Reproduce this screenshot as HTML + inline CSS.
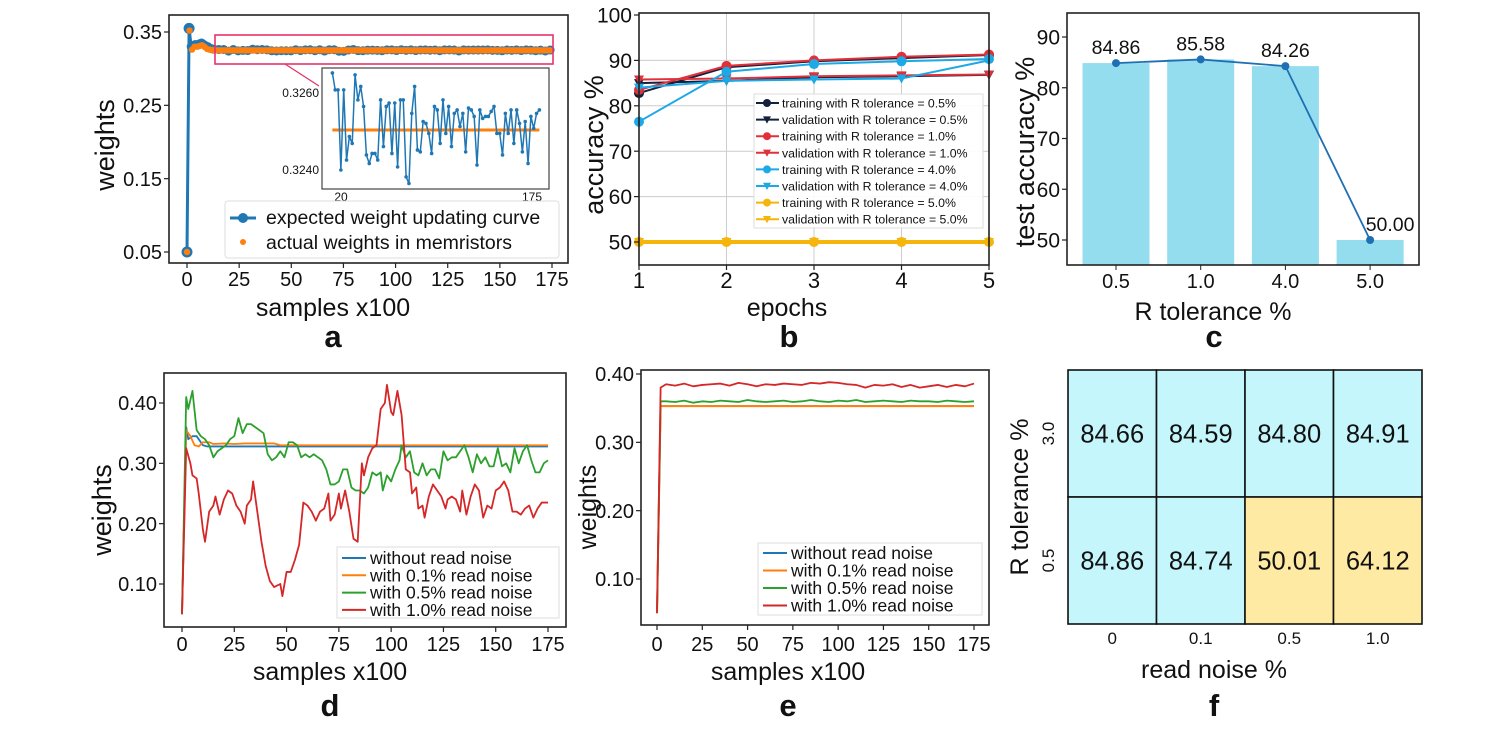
<!DOCTYPE html>
<html><head><meta charset="utf-8">
<style>
html,body{margin:0;padding:0;background:#fff;}
svg{display:block;font-family:"Liberation Sans",Arial,sans-serif;}
</style></head>
<body>
<svg id="fig" width="1510" height="746" viewBox="0 0 1510 746"></svg>
<script>
// ---------- DATA ----------
// panel a
const aHeadX = [0,1,2,3,4,5,6,7,8,9,10,11,12];
const aHeadExpected = [0.05,0.355,0.33,0.332,0.333,0.332,0.334,0.335,0.333,0.331,0.33,0.328,0.327];
const aHeadActual = [0.05,0.352,0.326,0.328,0.33,0.33,0.331,0.332,0.33,0.328,0.327,0.326,0.3255];
const aInsetExpected = [0.32652,0.32608,0.32608,0.32400,0.32608,0.32426,0.32487,0.32469,0.32647,0.32582,0.32617,0.32565,0.32439,0.32417,0.32443,0.32443,0.32426,0.32582,0.32461,0.32565,0.32574,0.32443,0.32574,0.32408,0.32582,0.32582,0.32382,0.32365,0.32547,0.32617,0.32452,0.32447,0.32526,0.32521,0.32495,0.32443,0.32565,0.32556,0.32469,0.32582,0.32495,0.32565,0.32461,0.32547,0.32556,0.32513,0.32547,0.32447,0.32561,0.32556,0.32539,0.32413,0.32556,0.32534,0.32539,0.32539,0.32552,0.32565,0.32495,0.32495,0.32439,0.32547,0.32495,0.32556,0.32469,0.32556,0.32521,0.32447,0.32526,0.32417,0.32539,0.32508,0.32547,0.32556];
const aInsetActual = 0.32504;
const aInsetStart = 13, aInsetEnd = 181;
const aYTicks = [0.05,0.15,0.25,0.35];
const aXTicks = [0,25,50,75,100,125,150,175];
// panel b
const bEpochs = [1,2,3,4,5];
const bTrain05 = [82.8,88.5,89.8,90.5,91.2];
const bVal05 = [85,85.5,86.3,86.5,86.8];
const bTrain10 = [83.5,88.8,90,90.8,91.3];
const bVal10 = [85.8,86,86.5,86.7,86.9];
const bTrain40 = [76.5,87.5,89.2,89.8,90.3];
const bVal40 = [84,85.5,85.8,86,90];
const bTrain50 = [50,50,50,50,50];
const bVal50 = [50,50,50,50,50];
const bYTicks = [50,60,70,80,90,100];
// panel c
const cCats = ["0.5","1.0","4.0","5.0"];
const cVals = [84.86,85.58,84.26,50.00];
const cYTicks = [50,60,70,80,90];
// panel d
const dBlueX = [0,2,3,5,7,10,12,175];
const dBlueY = [0.05,0.36,0.34,0.345,0.345,0.33,0.328,0.328];
const dOrangeX = [0,2,4,6,8,10,13,15,20,25,30,44,47,175];
const dOrangeY = [0.05,0.355,0.345,0.33,0.328,0.335,0.335,0.332,0.333,0.332,0.333,0.333,0.33,0.33];
const dGreenX = [0,2,3,5,7,9,11,13,15,17,19,21,23,25,27,29,31,33,35,37,39,41,43,45,47,49,51,53,55,57,59,61,63,65,67,69,71,73,75,77,79,81,83,85,87,89,91,93,95,96,98,100,102,104,105,107,109,111,113,115,117,119,121,123,125,127,129,131,133,135,137,139,141,143,145,147,149,151,153,155,157,159,161,163,165,167,169,171,173,175];
const dGreenY = [0.05,0.41,0.39,0.42,0.355,0.345,0.34,0.33,0.31,0.32,0.325,0.33,0.34,0.345,0.375,0.35,0.365,0.365,0.36,0.355,0.35,0.315,0.305,0.31,0.32,0.31,0.335,0.335,0.33,0.31,0.315,0.31,0.315,0.31,0.305,0.29,0.265,0.265,0.27,0.29,0.29,0.26,0.255,0.255,0.25,0.26,0.285,0.28,0.285,0.255,0.28,0.27,0.29,0.305,0.33,0.31,0.32,0.285,0.28,0.30,0.28,0.29,0.29,0.275,0.32,0.305,0.31,0.31,0.32,0.33,0.31,0.285,0.315,0.30,0.31,0.295,0.295,0.325,0.295,0.30,0.285,0.325,0.30,0.32,0.33,0.305,0.285,0.285,0.30,0.305];
const dRedX = [0,2,4,5,7,8,10,11,13,15,16,18,20,22,24,26,28,30,31,33,34,36,38,40,42,44,47,48,50,52,54,56,58,60,62,64,66,68,70,71,73,75,76,78,80,82,84,86,87,89,91,93,95,97,98,100,101,103,105,107,109,110,112,113,115,116,118,120,122,124,126,127,129,131,133,134,136,138,140,142,144,146,148,150,152,154,156,158,160,162,164,166,168,170,172,175];
const dRedY = [0.05,0.325,0.30,0.28,0.275,0.25,0.19,0.17,0.22,0.23,0.245,0.215,0.24,0.255,0.25,0.23,0.22,0.20,0.23,0.24,0.27,0.22,0.17,0.13,0.105,0.095,0.10,0.08,0.12,0.12,0.14,0.165,0.235,0.23,0.22,0.205,0.22,0.225,0.25,0.205,0.215,0.25,0.225,0.255,0.22,0.175,0.17,0.30,0.28,0.31,0.325,0.33,0.39,0.40,0.43,0.385,0.38,0.42,0.38,0.29,0.285,0.25,0.26,0.225,0.23,0.21,0.245,0.265,0.255,0.245,0.225,0.24,0.245,0.24,0.22,0.255,0.215,0.245,0.265,0.255,0.21,0.23,0.225,0.255,0.26,0.27,0.255,0.22,0.22,0.215,0.225,0.23,0.21,0.225,0.235,0.235];
const dYTicks = [0.10,0.20,0.30,0.40];
const xTicks175 = [0,25,50,75,100,125,150,175];
// panel e
const eFlatX = [0,2,175];
const eBlueY = [0.05,0.353,0.353];
const eOrangeY = [0.05,0.353,0.353];
const eNoiseStartX = [0,2];
const eGreenHead = [0.05,0.36];
const eRedHead = [0.05,0.38];
const eNoiseStep = 5;
const eGreen = [0.36,0.359,0.361,0.358,0.36,0.359,0.361,0.36,0.359,0.362,0.36,0.359,0.36,0.361,0.359,0.36,0.362,0.36,0.359,0.361,0.36,0.362,0.359,0.36,0.361,0.36,0.359,0.361,0.36,0.36,0.359,0.361,0.36,0.359,0.36];
const eRed = [0.385,0.383,0.386,0.382,0.384,0.385,0.386,0.383,0.387,0.385,0.382,0.385,0.384,0.386,0.385,0.384,0.387,0.386,0.388,0.387,0.385,0.384,0.38,0.384,0.383,0.385,0.381,0.384,0.38,0.382,0.384,0.381,0.384,0.382,0.386];
// panel f
const fCols = ["0","0.1","0.5","1.0"];
const fRows = ["3.0","0.5"];
const fRow30 = [84.66,84.59,84.80,84.91];
const fRow05 = [84.86,84.74,50.01,64.12];

// ---------- HELPERS ----------
const NS = "http://www.w3.org/2000/svg";
const svg = document.getElementById('fig');
function mk(tag, attrs, parent){
  const e = document.createElementNS(NS, tag);
  for (const k in attrs) e.setAttribute(k, attrs[k]);
  (parent || svg).appendChild(e);
  return e;
}
function txt(s, x, y, size, anchor, parent, extra){
  const a = {x:x, y:y, 'font-size':size, 'text-anchor':anchor||'middle', fill:'#111'};
  if (extra) for (const k in extra) a[k] = extra[k];
  const t = mk('text', a, parent);
  t.textContent = s;
  return t;
}
function grp(name){
  const g = mk('g', {});
  
  
  return g;
}
function pathD(xs, ys, sx, sy){
  return xs.map((x,i)=>(i?'L':'M')+sx(x).toFixed(2)+' '+sy(ys[i]).toFixed(2)).join(' ');
}
function series(g, name, xs, ys, sx, sy, color, w){
  const p = mk('path', {d:pathD(xs,ys,sx,sy), fill:'none', stroke:color, 'stroke-width':w, 'stroke-linejoin':'round'}, g);
  
  
  return p;
}
function frame(g, name, x0,y0,x1,y1){
  const r = mk('rect', {x:x0,y:y0,width:x1-x0,height:y1-y0,fill:'none',stroke:'#222','stroke-width':1.6}, g);
  
  
}
function yTicks(g, ticks, sy, xAxis, fmt, size){
  ticks.forEach(v=>{
    mk('line',{x1:xAxis-5,x2:xAxis,y1:sy(v),y2:sy(v),stroke:'#222','stroke-width':1.2},g);
    const t = txt(fmt(v), xAxis-7, sy(v)+size*0.36, size, 'end', g);
    
    
  });
}
function xTicks(g, ticks, sx, yAxis, fmt, size, base){
  ticks.forEach(v=>{
    mk('line',{x1:sx(v),x2:sx(v),y1:yAxis,y2:yAxis+5,stroke:'#222','stroke-width':1.2},g);
    const t = txt(fmt(v), sx(v), base, size, 'middle', g);
    
    
  });
}
function label(g, s, x, y, size, name, rot, bold){
  const extra = {};
  if (rot) extra.transform = 'rotate(-90 '+x+' '+y+')';
  if (bold) extra['font-weight'] = 'bold';
  const t = txt(s, x, y, size, 'middle', g, extra);
  
  
}

// ---------- PANEL A ----------
(function(){
  const g = grp('panel-a');
  const xA = v=>187+v*(552-187)/175;
  const yA = v=>252-(v-0.05)*(252-32)/0.30;
  const n = aInsetExpected.length;
  const insetX = aInsetExpected.map((_,i)=>aInsetStart+i*(aInsetEnd-aInsetStart)/(n-1));
  const allX = aHeadX.concat(insetX);
  const expY = aHeadExpected.concat(aInsetExpected);
  series(g,'expected-weight-line',allX.map(v=>Math.min(v,175)),expY,xA,yA,'#1f77b4',3);
  const markX = [];
  for (let v=0; v<=175; v+=1.2) markX.push(v);
  allX.forEach((x,i)=>{ if (x<=175) {
    const c = mk('circle',{cx:xA(x),cy:yA(expY[i]),r:i<2?5.5:4.5,fill:'#1f77b4'},g);
    
    
  }});
  markX.forEach(x=>{
    const v = x<=12 ? aHeadActual[Math.round(x)] : aInsetActual;
    const c = mk('circle',{cx:xA(x),cy:yA(v),r:3.2,fill:'#ff7f0e'},g);
    
    
  });
  frame(g,'panel-a-axes',169,15,568,263);
  yTicks(g,aYTicks,yA,169,v=>v.toFixed(2),20);
  xTicks(g,aXTicks,xA,263,v=>String(v),20,286);
  const zr = mk('rect',{x:215,y:35,width:338,height:29,fill:'none',stroke:'#e8336b','stroke-width':1.6},g);
  
  
  const cl = mk('line',{x1:285,y1:64,x2:319,y2:86,stroke:'#e8336b','stroke-width':1.3},g);
  
  
  const ig = grp('inset-a');
  const bg = mk('rect',{x:322,y:68,width:227,height:121,fill:'#fff',stroke:'#444','stroke-width':1.2},ig);
  
  
  const xI = v=>341+(v-20)*(532-341)/155;
  const yI = v=>93+(0.3260-v)*(170-93)/0.002;
  const al = mk('line',{x1:xI(aInsetStart),x2:xI(aInsetEnd),y1:yI(aInsetActual),y2:yI(aInsetActual),stroke:'#ff7f0e','stroke-width':3},ig);
  
  
  series(ig,'inset-expected-line',insetX,aInsetExpected,xI,yI,'#1f77b4',1.5);
  insetX.forEach((x,i)=>{
    const c = mk('circle',{cx:xI(x),cy:yI(aInsetExpected[i]),r:1.8,fill:'#1f77b4'},ig);
    
    
  });
  [0.3260,0.3240].forEach(v=>{
    const t = txt(v.toFixed(4),319,yI(v)+4,12,'end',ig);
    
    
  });
  [20,175].forEach(v=>{
    const t = txt(String(v),xI(v),201,12,'middle',ig);
    
    
  });
  const lg = grp('legend-a');
  const lb = mk('rect',{x:225,y:201,width:334,height:57,rx:3,fill:'#fff','fill-opacity':0.85,stroke:'#ddd'},lg);
  
  
  mk('line',{x1:230,x2:256,y1:218,y2:218,stroke:'#1f77b4','stroke-width':3},lg);
  mk('circle',{cx:243,cy:218,r:5,fill:'#1f77b4'},lg);
  mk('circle',{cx:243,cy:242,r:3,fill:'#ff7f0e'},lg);
  const l1 = txt('expected weight updating curve',266,224,19.5,'start',lg);
  
  
  const l2 = txt('actual weights in memristors',266,249,19.5,'start',lg);
  
  
  label(g,'weights',114,145,27,'y-axis-title',true);
  label(g,'samples x100',333,316,25,'x-axis-title');
  label(g,'a',333,347,31,'panel-label-a',false,true);
})();

// ---------- PANEL B ----------
(function(){
  const g = grp('panel-b');
  const xB = e=>639+(e-1)*(989-639)/4;
  const yB = v=>242-(v-50)*(242-15)/50;
  bEpochs.forEach(e=>{ if(e>1&&e<5) mk('line',{x1:xB(e),x2:xB(e),y1:13,y2:265,stroke:'#ccc','stroke-width':1},g);});
  bYTicks.forEach(v=>{ if(v>50&&v<100) mk('line',{x1:639,x2:989,y1:yB(v),y2:yB(v),stroke:'#ccc','stroke-width':1},g);});
  mk('line',{x1:639,x2:989,y1:yB(50),y2:yB(50),stroke:'#ccc','stroke-width':1},g);
  const sets = [
    ['train-0.5',bTrain05,'#14213d','o'],['val-0.5',bVal05,'#14213d','v'],
    ['train-1.0',bTrain10,'#e0303a','o'],['val-1.0',bVal10,'#e0303a','v'],
    ['train-4.0',bTrain40,'#1ca9e6','o'],['val-4.0',bVal40,'#1ca9e6','v'],
    ['train-5.0',bTrain50,'#f5b50a','o'],['val-5.0',bVal50,'#f5b50a','v']];
  function marker(parent,x,y,type,color,r){
    let m;
    if (type==='o') m = mk('circle',{cx:x,cy:y,r:r,fill:color},parent);
    else m = mk('path',{d:'M'+(x-r)+' '+(y-r*0.8)+' L'+(x+r)+' '+(y-r*0.8)+' L'+x+' '+(y+r)+' Z',fill:color},parent);
    
    
  }
  sets.forEach(s=>{
    const w = s[0].indexOf('5.0')>=0 ? 4 : 2;
    series(g,'line-'+s[0],bEpochs,s[1],xB,yB,s[2],w);
    bEpochs.forEach((e,i)=>marker(g,xB(e),yB(s[1][i]),s[3],s[2],5));
  });
  frame(g,'panel-b-axes',639,13,989,265);
  yTicks(g,bYTicks,yB,639,v=>String(v),21);
  xTicks(g,bEpochs,xB,265,v=>String(v),22,288);
  const lg = grp('legend-b');
  const lb = mk('rect',{x:754,y:94,width:229,height:134,fill:'#fff','fill-opacity':0.9,stroke:'#ddd'},lg);
  
  
  const names = ['training with R tolerance = 0.5%','validation with R tolerance = 0.5%','training with R tolerance = 1.0%','validation with R tolerance = 1.0%','training with R tolerance = 4.0%','validation with R tolerance = 4.0%','training with R tolerance = 5.0%','validation with R tolerance = 5.0%'];
  names.forEach((nm,i)=>{
    const y = 103+i*16.6;
    mk('line',{x1:756,x2:779,y1:y,y2:y,stroke:sets[i][2],'stroke-width':2},lg);
    marker(lg,767,y,sets[i][3],sets[i][2],4);
    const t = txt(nm,782,y+4.5,12.3,'start',lg);
    
    
  });
  label(g,'accuracy %',603,145,27,'y-axis-title',true);
  label(g,'epochs',787,316,25,'x-axis-title');
  label(g,'b',789,347,31,'panel-label-b',false,true);
})();

// ---------- PANEL C ----------
(function(){
  const g = grp('panel-c');
  const xC = i=>1116+i*84.7;
  const yC = v=>240-(v-50)*(240-37)/40;
  const base = 265;
  cVals.forEach((v,i)=>{
    const b = mk('rect',{x:xC(i)-33.5,y:yC(v),width:67,height:base-yC(v),fill:'#93ddee'},g);
    
    
  });
  series(g,'accuracy-line',cVals.map((_,i)=>i),cVals,xC,yC,'#1f6fb4',1.8);
  cVals.forEach((v,i)=>{
    const c = mk('circle',{cx:xC(i),cy:yC(v),r:4,fill:'#1f6fb4'},g);
    
    
    const t = txt(v.toFixed(2), xC(i)+(i===3?20:0), yC(v)-9, 19.5, 'middle', g);
    
    
  });
  frame(g,'panel-c-axes',1067,13,1419,265);
  yTicks(g,cYTicks,yC,1067,v=>String(v),21);
  cCats.forEach((c,i)=>{
    mk('line',{x1:xC(i),x2:xC(i),y1:265,y2:270,stroke:'#222'},g);
    const t = txt(c,xC(i),288,20,'middle',g);
    
    
  });
  label(g,'test accuracy %',1034,152,27,'y-axis-title',true);
  label(g,'R tolerance %',1213,320,25,'x-axis-title');
  label(g,'c',1214,347,31,'panel-label-c',false,true);
})();

// ---------- PANEL D ----------
(function(){
  const g = grp('panel-d');
  const xD = v=>182+v*(548-182)/175;
  const yD = v=>403+(0.40-v)*(584-403)/0.30;
  series(g,'line-without-noise',dBlueX,dBlueY,xD,yD,'#1f77b4',1.8);
  series(g,'line-0.1-noise',dOrangeX,dOrangeY,xD,yD,'#ff7f0e',1.8);
  series(g,'line-0.5-noise',dGreenX,dGreenY,xD,yD,'#2ca02c',1.8);
  series(g,'line-1.0-noise',dRedX,dRedY,xD,yD,'#d62728',1.8);
  frame(g,'panel-d-axes',164,373,566,627);
  yTicks(g,dYTicks,yD,164,v=>v.toFixed(2),20);
  xTicks(g,xTicks175,xD,627,v=>String(v),20,651);
  const lg = grp('legend-d');
  const lb = mk('rect',{x:337,y:547,width:222,height:71,fill:'#fff','fill-opacity':0.85,stroke:'#ddd'},lg);
  
  
  const nm = ['without read noise','with 0.1% read noise','with 0.5% read noise','with 1.0% read noise'];
  const cl = ['#1f77b4','#ff7f0e','#2ca02c','#d62728'];
  nm.forEach((s,i)=>{
    const y = 558+i*17.3;
    mk('line',{x1:342,x2:366,y1:y,y2:y,stroke:cl[i],'stroke-width':2},lg);
    const t = txt(s,370,y+6,17.5,'start',lg);
    
    
  });
  label(g,'weights',111,510,27,'y-axis-title',true);
  label(g,'samples x100',330,680,25,'x-axis-title');
  label(g,'d',330,716,31,'panel-label-d',false,true);
})();

// ---------- PANEL E ----------
(function(){
  const g = grp('panel-e');
  const xE = v=>657+v*(974-657)/175;
  const yE = v=>374+(0.40-v)*(579-374)/0.30;
  const nx = eRed.map((_,i)=>Math.min(175,eNoiseStep*(i+1)));
  series(g,'line-without-noise',eFlatX,eBlueY,xE,yE,'#1f77b4',1.8);
  series(g,'line-0.1-noise',eFlatX,eOrangeY,xE,yE,'#ff7f0e',2);
  series(g,'line-0.5-noise',eNoiseStartX.concat(nx),eGreenHead.concat(eGreen),xE,yE,'#2ca02c',1.8);
  series(g,'line-1.0-noise',eNoiseStartX.concat(nx),eRedHead.concat(eRed),xE,yE,'#d62728',1.8);
  frame(g,'panel-e-axes',641,370,989,625);
  yTicks(g,dYTicks,yE,641,v=>v.toFixed(2),20);
  xTicks(g,xTicks175,xE,625,v=>String(v),20,651);
  const lg = grp('legend-e');
  const lb = mk('rect',{x:758,y:543,width:224,height:72,fill:'#fff','fill-opacity':0.85,stroke:'#ddd'},lg);
  
  
  const nm = ['without read noise','with 0.1% read noise','with 0.5% read noise','with 1.0% read noise'];
  const cl = ['#1f77b4','#ff7f0e','#2ca02c','#d62728'];
  nm.forEach((s,i)=>{
    const y = 553+i*17.5;
    mk('line',{x1:763,x2:787,y1:y,y2:y,stroke:cl[i],'stroke-width':2},lg);
    const t = txt(s,791,y+6,17.5,'start',lg);
    
    
  });
  label(g,'weights',596,507,25,'y-axis-title',true);
  label(g,'samples x100',788,680,25,'x-axis-title');
  label(g,'e',788,716,31,'panel-label-e',false,true);
})();

// ---------- PANEL F ----------
(function(){
  const g = grp('panel-f');
  const x0 = 1068, y0 = 370, cw = (1422-1068)/4, ch = (624-370)/2;
  const rows = [fRow30, fRow05];
  rows.forEach((row,r)=>{
    row.forEach((v,c)=>{
      const cell = mk('rect',{x:x0+c*cw,y:y0+r*ch,width:cw,height:ch,fill:v<70?'#feeaa2':'#c4f6fc',stroke:'#111','stroke-width':1.6},g);
      
      
      const t = txt(v.toFixed(2),x0+c*cw+cw/2,y0+r*ch+ch/2+9,25.5,'middle',g);
      
      
    });
    const t = txt(fRows[r],1054,y0+r*ch+ch/2,17,'middle',g,{transform:'rotate(-90 1054 '+(y0+r*ch+ch/2)+')'});
    
    
  });
  fCols.forEach((c,i)=>{
    const t = txt(c,x0+i*cw+cw/2,644,17,'middle',g);
    
    
  });
  label(g,'R tolerance %',1028,497,25,'y-axis-title',true);
  label(g,'read noise %',1214,678,25,'x-axis-title');
  label(g,'f',1214,716,31,'panel-label-f',false,true);
})();
</script>
</body></html>
